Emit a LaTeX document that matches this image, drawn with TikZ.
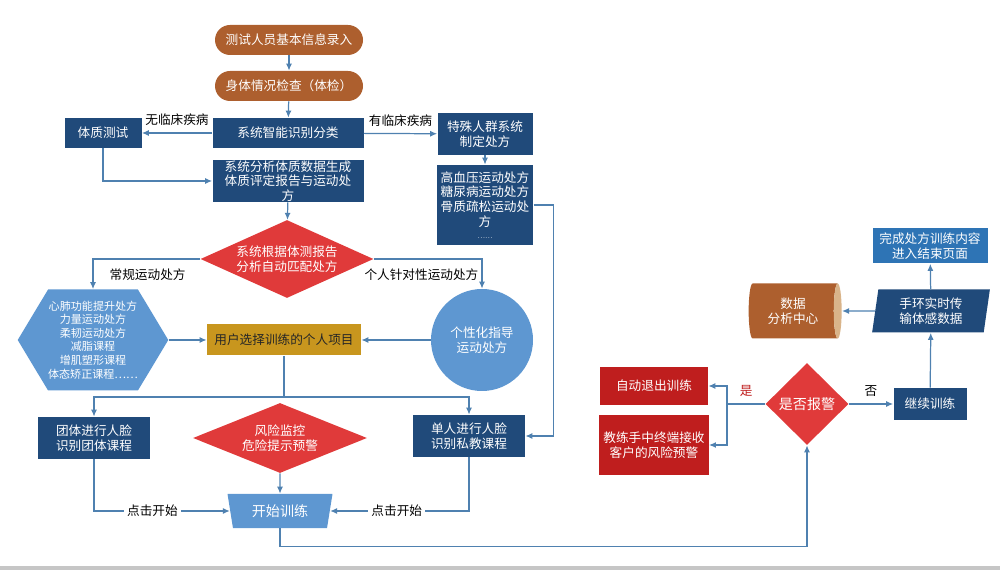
\documentclass[tikz,border=0pt]{standalone}
\usepackage{fontspec}
\setmainfont{Noto Sans CJK SC}
\usetikzlibrary{arrows.meta,shapes.geometric,shapes.symbols,positioning}

\definecolor{brownbox}{HTML}{AD5F2E}
\definecolor{tanend}{HTML}{D9B48A}
\definecolor{navybox}{HTML}{204A7A}
\definecolor{skybox}{HTML}{5E97D1}
\definecolor{endbox}{HTML}{2E74B5}
\definecolor{reddia}{HTML}{E03A3A}
\definecolor{redbox}{HTML}{BF1E1E}
\definecolor{goldbox}{HTML}{C8961E}
\definecolor{linec}{HTML}{4F81B0}

\begin{document}
\begin{tikzpicture}[
  x=0.2mm, y=-0.2mm,
  every node/.style={
    font=\fontsize{7.2}{8.4}\selectfont,
    text=black
  },
  block/.style={
    rectangle,
    draw=none,
    fill=navybox,
    text=white,
    align=center,
    inner xsep=0.8mm,
    inner ysep=0.4mm
  },
  startblock/.style={
    block,
    fill=brownbox,
    rounded corners=3mm,
    minimum width=29.6mm,
    minimum height=6mm
  },
  decision/.style={
    diamond,
    draw=none,
    fill=reddia,
    text=white,
    align=center,
    inner sep=0pt
  },
  line/.style={
    draw=linec,
    line width=0.7pt
  },
  arrow/.style={
    line,
    -{Latex[length=1.4mm,width=1.2mm]}
  },
  edgelabel/.style={
    fill=white,
    inner sep=0.6mm
  }
]
  \useasboundingbox (0,0) rectangle (1000,570);
  \fill[gray!45] (0,566) rectangle (1000,570);

  % entry and classification
  \node[startblock] (entry) at (289,40) {测试人员基本信息录入};
  \node[startblock] (check) at (289,86) {身体情况检查（体检）};
  \node[block, minimum width=30.2mm, minimum height=6mm] (classify) at (288,133)
    {系统智能识别分类};
  \node[block, minimum width=15.4mm, minimum height=6mm] (fitness) at (103,133)
    {体质测试};
  \node[block, minimum width=30.2mm, minimum height=8.4mm, inner ysep=0pt] (report) at (288,181)
    {系统分析体质数据生成\\体质评定报告与运动处\\方};
  \node[block, minimum width=19mm, minimum height=8.4mm] (special) at (485,134)
    {特殊人群系统\\制定处方};
  \node[block, minimum width=19mm, minimum height=16mm] (protocols) at (485,205)
    {高血压运动处方\\糖尿病运动处方\\骨质疏松运动处\\方\\[-0.5mm]{\fontsize{4}{4}\selectfont ……}};

  % prescription matching
  \node[decision, aspect=2.2, minimum width=34.6mm, minimum height=15.6mm] (match) at (287,259)
    {系统根据体测报告\\分析自动匹配处方};
  \node[signal, signal to=west and east, signal pointer angle=118,
    fill=skybox, text=white, align=center, inner sep=0pt,
    minimum width=28.2mm, minimum height=20.2mm,
    font=\fontsize{6.3}{7.7}\selectfont] (routine) at (93,340)
    {心肺功能提升处方\\力量运动处方\\柔韧运动处方\\减脂课程\\增肌塑形课程\\体态矫正课程……};
  \node[circle, fill=skybox, text=white, align=center, minimum size=20.4mm, inner sep=0pt]
    (personal) at (482,340) {个性化指导\\运动处方};
  \node[block, fill=goldbox, text=black!85, minimum width=30.8mm, minimum height=6.2mm]
    (choose) at (284,340) {用户选择训练的个人项目};

  % training
  \node[block, minimum width=22.2mm, minimum height=8.4mm] (group) at (94,438)
    {团体进行人脸\\识别团体课程};
  \node[block, minimum width=22.4mm, minimum height=8.4mm] (single) at (469,436)
    {单人进行人脸\\识别私教课程};
  \node[decision, aspect=2.5, minimum width=34.8mm, minimum height=14mm] (risk) at (280,438)
    {风险监控\\危险提示预警};
  \node[trapezium, shape border rotate=180, trapezium left angle=76,
    trapezium right angle=76, trapezium stretches=true,
    fill=skybox, text=white, inner sep=0pt,
    minimum width=21mm, minimum height=6.8mm,
    font=\fontsize{8}{9}\selectfont] (start) at (280,511) {开始训练};

  % alarm handling
  \node[decision, minimum width=16.6mm, minimum height=16.4mm,
    font=\fontsize{8}{9}\selectfont] (alarm) at (807,404) {是否报警};
  \node[block, fill=redbox, minimum width=21.6mm, minimum height=7.6mm] (quit) at (654,386)
    {自动退出训练};
  \node[block, fill=redbox, minimum width=21.6mm, minimum height=12mm] (warn) at (654,445)
    {教练手中终端接收\\客户的风险预警};
  \node[block, minimum width=14.6mm, minimum height=6.4mm] (goon) at (930,404)
    {继续训练};
  \node[trapezium, trapezium left angle=82, trapezium right angle=98,
    trapezium stretches=true, fill=navybox, text=white, align=center, inner sep=0pt,
    minimum width=23.6mm, minimum height=8.6mm] (band) at (931,311)
    {手环实时传\\输体感数据};
  \node[block, fill=endbox, minimum width=23mm, minimum height=7mm] (finish) at (930,246)
    {完成处方训练内容\\进入结束页面};
  \node[cylinder, aspect=0.3, cylinder uses custom fill,
    cylinder body fill=brownbox, cylinder end fill=tanend,
    text=white, align=center, inner sep=0pt,
    minimum width=11mm, minimum height=18.6mm] (center) at (793,311)
    {数据\\分析中心};

  % connectors
  \draw[arrow] (entry) -- (check);
  \draw[arrow] (check) -- (classify);
  \draw[arrow] (classify) -- node[above=0.2mm] {无临床疾病} (fitness);
  \draw[arrow] (classify) -- node[above=0.2mm] {有临床疾病} (special);
  \draw[arrow] (fitness.south) |- (report.west);
  \draw[arrow] (special) -- (protocols);
  \draw[arrow] (report) -- (match);
  \draw[arrow] (match.west) -| node[pos=0.245, below=0.6mm] {常规运动处方} (routine.north);
  \draw[arrow] (match.east) -| node[pos=0.22, below=0.6mm] {个人针对性运动处方} (personal.north);
  \draw[arrow] (routine.east) -- (choose.west);
  \draw[arrow] (personal.west) -- (choose.east);

  \coordinate (split) at (284,397);
  \draw[line] (choose.south) -- (split);
  \draw[arrow] (split) -| (group.north);
  \draw[arrow] (split) -| (single.north);
  \draw[arrow] (protocols.east) -- ++(20,0) |- (single.east);
  \draw[arrow] (risk) -- (start);
  \draw[arrow] (group.south) |- node[pos=0.715, edgelabel] {点击开始} (start.west);
  \draw[arrow] (single.south) |- node[pos=0.76, edgelabel] {点击开始} (start.east);

  \draw[arrow] (start.south) -- ++(0,18) -| (alarm.south);
  \coordinate (fork) at (727,404);
  \draw[line] (alarm.west) -- node[above=0.2mm, text=redbox] {是} (fork);
  \draw[arrow] (fork) |- (quit.east);
  \draw[arrow] (fork) |- (warn.east);
  \draw[arrow] (alarm.east) -- node[above=0.2mm] {否} (goon.west);
  \draw[arrow] (goon) -- (band);
  \draw[arrow] (band) -- (finish);
  \draw[arrow] (band.west) -- (center.east);
\end{tikzpicture}
\end{document}
